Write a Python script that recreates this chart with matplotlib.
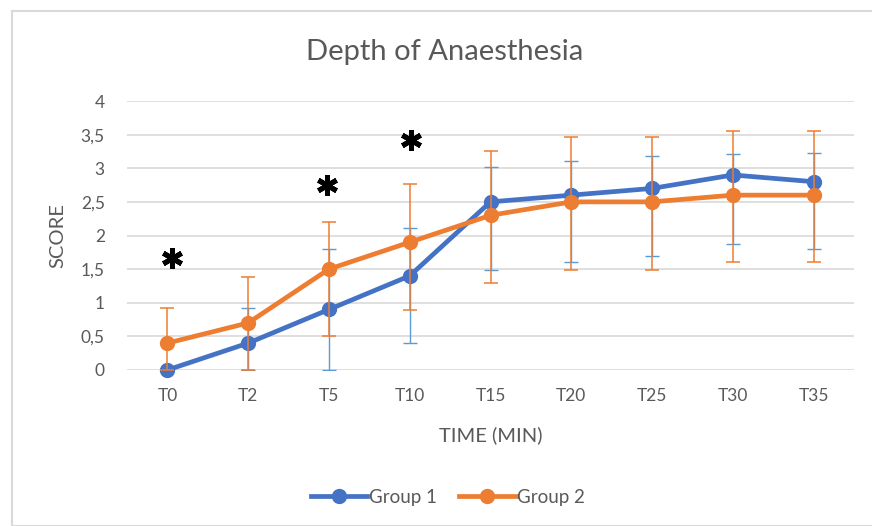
import matplotlib
matplotlib.use("Agg")
import matplotlib.pyplot as plt
from matplotlib.patches import Rectangle
import numpy as np

# Data
times = ["T0", "T2", "T5", "T10", "T15", "T20", "T25", "T30", "T35"]
group1 = [0.0, 0.4, 0.9, 1.4, 2.5, 2.6, 2.7, 2.9, 2.8]
group1_upper = [0.0, 0.92, 1.8, 2.11, 3.02, 3.11, 3.18, 3.21, 3.22]
group1_lower = [0.0, 0.0, 0.0, 0.40, 1.49, 1.60, 1.70, 1.88, 1.80]
group2 = [0.4, 0.7, 1.5, 1.9, 2.3, 2.5, 2.5, 2.6, 2.6]
group2_upper = [0.92, 1.38, 2.2, 2.77, 3.25, 3.47, 3.47, 3.56, 3.56]
group2_lower = [0.0, 0.0, 0.5, 0.89, 1.30, 1.49, 1.49, 1.60, 1.60]
# significance markers: (category position, height)
sig_x = [0.06, 1.98, 3.02]
sig_y = [1.67, 2.75, 3.42]
yticks = [0, 0.5, 1, 1.5, 2, 2.5, 3, 3.5, 4]
ytick_labels = ["0", "0,5", "1", "1,5", "2", "2,5", "3", "3,5", "4"]

BLUE = "#4472C4"
BLUE_ERR = "#5B9BD5"
ORANGE = "#ED7D31"
TEXT = "#595959"
GRID = "#D9D9D9"

plt.rcParams["font.family"] = ["Lato", "DejaVu Sans"]

fig = plt.figure(figsize=(8.72, 5.26), dpi=100)
W, H = 872, 526

# chart frame
fig.patches.append(Rectangle((12 / W, 0), 1.2, 1 - 11 / H, transform=fig.transFigure,
                             fill=False, edgecolor=GRID, linewidth=1.5))

ax = fig.add_axes([127 / W, 1 - 370 / H, (854 - 127) / W, (370 - 101) / H])
x = np.arange(len(times))

g1 = np.array(group1)
g2 = np.array(group2)
err1 = [g1 - np.array(group1_lower), np.array(group1_upper) - g1]
err2 = [g2 - np.array(group2_lower), np.array(group2_upper) - g2]

ax.errorbar(x, g1, yerr=err1, fmt="none", ecolor=BLUE_ERR, elinewidth=1.0,
            capsize=5, capthick=1.0, zorder=2)
ax.plot(x, g1, color=BLUE, lw=3.4, marker="o", ms=10, zorder=3, label="Group 1",
        clip_on=False)
ax.errorbar(x, g2, yerr=err2, fmt="none", ecolor=ORANGE, elinewidth=1.1,
            capsize=5, capthick=1.1, zorder=4)
ax.plot(x, g2, color=ORANGE, lw=3.4, marker="o", ms=10, zorder=5, label="Group 2",
        clip_on=False)

# significance asterisks
ax.plot(sig_x, sig_y, linestyle="none", marker=(6, 2, 0), ms=15, mew=3.6,
        color="black", zorder=6)

ax.set_xlim(-0.5, len(times) - 0.5)
ax.set_ylim(0, 4)
ax.set_xticks(x)
ax.set_xticklabels(times)
ax.set_yticks(yticks)
ax.set_yticklabels(ytick_labels)
ax.tick_params(length=0, labelsize=12.5, labelcolor=TEXT)
ax.tick_params(axis="y", pad=16)
ax.tick_params(axis="x", pad=13)
ax.grid(axis="y", color=GRID, linewidth=1.2)
ax.set_axisbelow(True)
for s in ax.spines.values():
    s.set_visible(False)

ax.set_ylabel("SCORE", fontsize=14.5, color=TEXT)
ax.set_xlabel("TIME (MIN)", fontsize=14.5, color=TEXT)
ax.yaxis.set_label_coords((58 - 127) / 727, 0.5)
ax.xaxis.set_label_coords(0.5, (370 - 435) / 269)
ax.xaxis.label.set_va("center")
ax.yaxis.label.set_va("center")

fig.text(445 / W, 1 - 52 / H, "Depth of Anaesthesia", fontsize=21, color=TEXT,
         ha="center", va="center")

handles, labels = ax.get_legend_handles_labels()
fig.legend(handles, labels, loc="center", bbox_to_anchor=(448 / W, 1 - 497 / H),
           ncol=2, frameon=False, fontsize=13.5, labelcolor=TEXT,
           handlelength=3.0, columnspacing=1.2, handletextpad=0.1)

fig.savefig("out.png", dpi=100)
